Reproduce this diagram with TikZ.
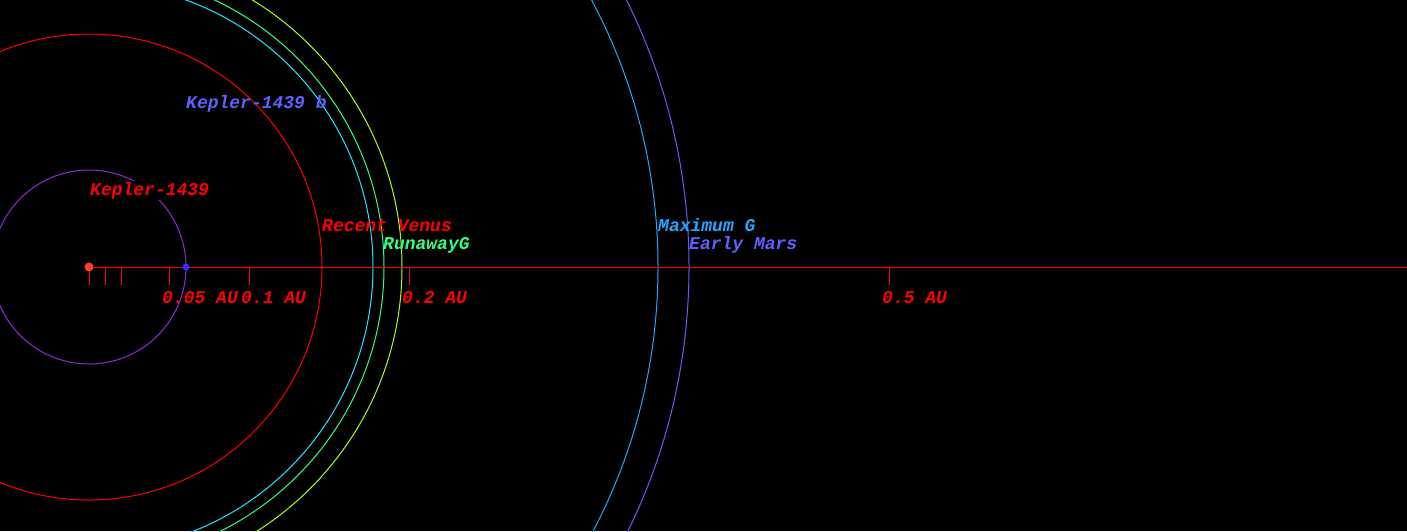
\documentclass[tikz,border=0pt]{standalone}
\usepackage{fontspec}
\newfontfamily\labelfont{Liberation Mono}
\definecolor{starc}{HTML}{FF4020}
\definecolor{planetc}{HTML}{3030FF}
\definecolor{orbitc}{HTML}{8A2BE2}
\definecolor{venusc}{HTML}{FF0000}
\definecolor{cyanc}{HTML}{20E8FF}
\definecolor{greenc}{HTML}{30FF80}
\definecolor{yellowc}{HTML}{A8FF20}
\definecolor{maxgc}{HTML}{20A8FF}
\definecolor{marsc}{HTML}{6060FF}
\definecolor{axisc}{HTML}{FF0000}
\tikzset{
  lbl/.style={anchor=base west, inner sep=0pt, font=\labelfont\bfseries\itshape\fontsize{18}{20}\selectfont},
  ring/.style={line width=1pt},
  tick/.style={line width=1pt, draw=axisc},
}
\begin{document}
\begin{tikzpicture}[x=1pt,y=-1pt]
\useasboundingbox (0,0) rectangle (1407,531);
\fill[black] (0,0) rectangle (1407,531);
\clip (0,0) rectangle (1407,531);
\coordinate (c) at (89,267);
% orbits / zones
\draw[ring, draw=orbitc] (c) circle (97);
\draw[ring, draw=venusc] (c) circle (233);
\draw[ring, draw=cyanc] (c) circle (284);
\draw[ring, draw=greenc] (c) circle (295);
\draw[ring, draw=yellowc] (c) circle (313);
\draw[ring, draw=maxgc] (c) circle (569);
\draw[ring, draw=marsc] (c) circle (600);
% axis
\coordinate (axend) at (1407,267);
\draw[line width=1pt, draw=axisc] (c) -- (axend);
\foreach \px/\nm in {89/t0,105/t1,121/t2,169/t5,249/t10,409/t20,889/t50}{
  \coordinate (\nm) at (\px,267);
  \coordinate (\nm b) at (\px,285);
  \draw[tick] (\nm) -- (\nm b);
}
\node[lbl, text=axisc] (l05) at (162,303) {0.05 AU};
\node[lbl, text=axisc] (l1) at (241,303) {0.1 AU};
\node[lbl, text=axisc] (l2) at (402,303) {0.2 AU};
\node[lbl, text=axisc] (l5) at (882,303) {0.5 AU};
% bodies
\node[circle, fill=starc, inner sep=0pt, minimum size=9pt] (star) at (c) {};
\node[circle, fill=planetc, inner sep=0pt, minimum size=7pt] (planet) at (186,267) {};
% labels
\node[lbl, text=venusc, fill=black, inner sep=1pt] (kstar) at (89,195) {Kepler-1439};
\node[lbl, text=marsc] (kb) at (186,108) {Kepler-1439 b};
\node[lbl, text=venusc] (rv) at (322,231) {Recent Venus};
\node[lbl, text=greenc] (rg) at (383,249) {RunawayG};
\node[lbl, text=maxgc] (mg) at (658,231) {Maximum G};
\node[lbl, text=marsc] (em) at (689,249) {Early Mars};
\end{tikzpicture}
\end{document}
